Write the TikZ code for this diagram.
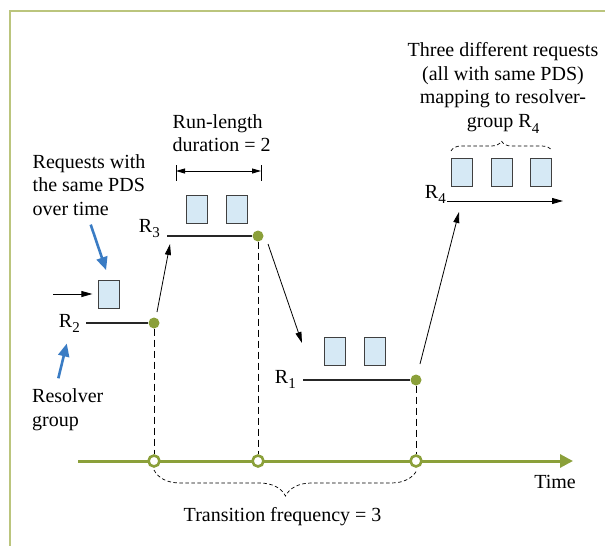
\documentclass[tikz,border=0pt]{standalone}
\usepackage{fontspec}
\setmainfont{Liberation Serif}
\usetikzlibrary{calc, arrows.meta, decorations.pathreplacing}

\definecolor{framegreen}{RGB}{187,197,125}
\definecolor{timegreen}{RGB}{139,160,58}
\definecolor{requestblue}{RGB}{214,233,245}
\definecolor{pointerblue}{RGB}{58,124,196}

\newcommand{\lvlsub}[1]{\raisebox{-0.28em}{\fontsize{15}{15}\selectfont #1}}

\tikzset{
	request/.style = {draw = black!75, fill = requestblue, line width = 0.9, minimum width = 21, minimum height = 28, inner sep = 0},
	switch/.style = {circle, fill = timegreen, minimum size = 11, inner sep = 0},
	tick/.style = {circle, draw = timegreen, fill = white, line width = 2.6, minimum size = 11, inner sep = 0},
	note/.style = {inner sep = 0},
	level/.style = {line width = 1.1, black!85},
	transition/.style = {-{Triangle[length = 11pt, width = 6pt]}, line width = 0.8},
	pointer/.style = {pointerblue, line width = 2.6, -{Triangle[length = 13pt, width = 11pt]}},
	guide/.style = {dash pattern = on 7pt off 4pt, line width = 1},
	dashedbrace/.style = {decorate, decoration = {brace, amplitude = #1}, dash pattern = on 3.5pt off 2.5pt, line width = 0.7}
}

\begin{document}
\begin{tikzpicture}[x = 1pt, y = -1pt, font = \fontsize{20}{23.5}\selectfont]
		\useasboundingbox (0,0) rectangle (605,546);
		\draw [framegreen, line width = 2.2] (10,546) -- (10,11) -- (605,11);
		
		\begin{scope}
			\coordinate (timestart) at (78,461);
			\coordinate (timeend) at (573,461);
			\draw [timegreen, line width = 3, -{Triangle[length = 13pt, width = 13pt]}] (timestart) -- (timeend);
			\node [tick] (ticktwo) at (154,461) {};
			\node [tick] (tickthree) at (258,461) {};
			\node [tick] (tickone) at (416,461) {};
		\end{scope}
		
		\begin{scope}
			\node [switch] (switchtwo) at (154,323) {};
			\node [switch] (switchthree) at (258,236) {};
			\node [switch] (switchone) at (416,380) {};
			\draw [guide] (switchtwo.south) -- (ticktwo.north);
			\draw [guide] (switchthree.south) -- (tickthree.north);
			\draw [guide] (switchone.south) -- (tickone.north);
		\end{scope}
		
		\begin{scope}
			\node [note, anchor = base east] (Rtwo) at (80,327) {R\lvlsub{2}};
			\node [note, anchor = base east] (Rthree) at (160,232) {R\lvlsub{3}};
			\node [note, anchor = base east] (Rone) at (296,383) {R\lvlsub{1}};
			\node [note, anchor = base east] (Rfour) at (446,198) {R\lvlsub{4}};
			\coordinate (leveltwo) at (86,323);
			\coordinate (levelthree) at (167,236);
			\coordinate (levelone) at (303,380);
			\coordinate (levelfour) at (447,201);
			\coordinate (fourend) at (563,201);
			\draw [level] (leveltwo) -- (switchtwo.west);
			\draw [level] (levelthree) -- (switchthree.west);
			\draw [level] (levelone) -- (switchone.west);
			\draw [transition] (levelfour) -- (fourend);
		\end{scope}
		
		\begin{scope}
			\draw [transition] ($(switchtwo)+(3,-11)$) -- ($(levelthree)+(3,8)$);
			\draw [transition] ($(switchthree)+(10,8)$) -- ($(levelone)+(-1,-37)$);
			\draw [transition] ($(switchone)+(4,-16)$) -- ($(levelfour)+(12,11)$);
		\end{scope}
		
		\begin{scope}
			\node [request] (reqtwo) at (109.3,294) {};
			\node [request] (reqthreea) at (197,209) {};
			\node [request] (reqthreeb) at (237.3,209) {};
			\node [request] (reqonea) at (335.3,351) {};
			\node [request] (reqoneb) at (374.7,351) {};
			\node [request] (reqfoura) at (462.2,172) {};
			\node [request] (reqfourb) at (502.2,172) {};
			\node [request] (reqfourc) at (541.4,172) {};
		\end{scope}
		
		\begin{scope}
			\coordinate (feedstart) at (53,294);
			\draw [transition, shorten > = 6pt] (feedstart) -- (reqtwo.west);
			\coordinate (runstart) at (176,171);
			\coordinate (runend) at (261,171);
			\draw [{Triangle[length = 9pt, width = 5pt]}-{Triangle[length = 9pt, width = 5pt]}, line width = 0.8] (runstart) -- (runend);
			\draw [line width = 0.8] ($(runstart)+(0,-6)$) -- ($(runstart)+(0,10)$);
			\draw [line width = 0.8] ($(runend)+(0,-6)$) -- ($(runend)+(0,10)$);
		\end{scope}
		
		\begin{scope}
			\coordinate (groupstart) at (451,151);
			\coordinate (groupend) at (552,151);
			\draw [dashedbrace = 10] (groupstart) -- (groupend);
			\coordinate (spanstart) at (154,470);
			\coordinate (spanend) at (417,470);
			\draw [dashedbrace = 26, decoration = {mirror}] (spanstart) -- (spanend);
		\end{scope}
		
		\begin{scope}
			\node [note, anchor = north west, align = left] (asknote) at (32.5,154) {Requests with\\the same PDS\\over time};
			\node [note, anchor = north west, align = left] (resolvernote) at (32,388.5) {Resolver\\group};
			\node [note, anchor = north west, align = left, font = \fontsize{20}{22.5}\selectfont] (runnote) at (172.5,114.7) {Run-length\\duration = 2};
			\node [note, anchor = north, align = center] (groupnote) at (503,42.7) {Three different requests\\(all with same PDS)\\mapping to resolver-\\group R\lvlsub{4}};
			\node [note, anchor = base] (transitionnote) at (282.6,521) {Transition frequency = 3};
			\node [note, anchor = base] (timenote) at (555,488) {Time};
		\end{scope}
		
		\begin{scope}
			\coordinate (askstart) at (90.7,224.6);
			\coordinate (resolverstart) at (58.3,378.3);
			\draw [pointer, shorten > = 10pt] (askstart) -- (reqtwo.north);
			\draw [pointer, shorten > = 11pt] (resolverstart) -- (Rtwo.south);
		\end{scope}
	\end{tikzpicture}
\end{document}
